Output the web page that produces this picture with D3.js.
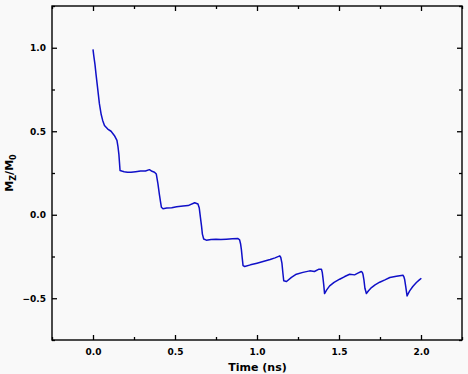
<!DOCTYPE html>
<html>
<head>
<meta charset="utf-8">
<script src="https://cdn.jsdelivr.net/npm/d3@7"></script>
<style>
  html, body { margin: 0; padding: 0; background: #f9f9f9; }
  svg { display: block; }
  text { font-family: "DejaVu Sans", Arial, sans-serif; font-weight: bold; fill: #000; }
</style>
</head>
<body>
<svg id="chart" width="468" height="374"></svg>
<script>
// ---- data ----
const timeNs = [0, 0.005, 0.012, 0.018, 0.028, 0.039, 0.05, 0.059, 0.07, 0.09, 0.11, 0.13, 0.146, 0.152, 0.158, 0.165, 0.175, 0.19, 0.21, 0.232, 0.26, 0.29, 0.32, 0.344, 0.36, 0.375, 0.386, 0.396, 0.405, 0.412, 0.417, 0.427, 0.45, 0.48, 0.51, 0.549, 0.58, 0.62, 0.64, 0.648, 0.655, 0.662, 0.667, 0.675, 0.691, 0.72, 0.75, 0.78, 0.813, 0.85, 0.884, 0.894, 0.9, 0.905, 0.91, 0.915, 0.925, 0.96, 1.0, 1.037, 1.08, 1.11, 1.139, 1.145, 1.152, 1.158, 1.163, 1.18, 1.21, 1.24, 1.28, 1.322, 1.35, 1.378, 1.393, 1.398, 1.402, 1.407, 1.412, 1.425, 1.443, 1.47, 1.504, 1.535, 1.565, 1.595, 1.615, 1.636, 1.642, 1.646, 1.652, 1.658, 1.667, 1.68, 1.698, 1.72, 1.748, 1.78, 1.81, 1.85, 1.89, 1.895, 1.9, 1.907, 1.915, 1.922, 1.931, 1.95, 1.972, 1.99, 2.002];
const mzOverM0 = [0.99, 0.95, 0.90, 0.845, 0.76, 0.665, 0.60, 0.565, 0.535, 0.513, 0.50, 0.475, 0.445, 0.41, 0.36, 0.265, 0.262, 0.258, 0.255, 0.254, 0.258, 0.262, 0.262, 0.27, 0.26, 0.255, 0.244, 0.185, 0.12, 0.075, 0.045, 0.036, 0.04, 0.042, 0.048, 0.052, 0.055, 0.072, 0.064, 0.04, -0.016, -0.07, -0.116, -0.145, -0.152, -0.148, -0.146, -0.148, -0.146, -0.144, -0.142, -0.15, -0.175, -0.21, -0.26, -0.305, -0.31, -0.3, -0.29, -0.28, -0.268, -0.258, -0.246, -0.256, -0.29, -0.35, -0.395, -0.4, -0.375, -0.356, -0.345, -0.336, -0.34, -0.326, -0.326, -0.345, -0.376, -0.42, -0.472, -0.45, -0.426, -0.405, -0.386, -0.37, -0.356, -0.36, -0.35, -0.34, -0.345, -0.356, -0.39, -0.44, -0.472, -0.455, -0.436, -0.42, -0.404, -0.39, -0.376, -0.368, -0.362, -0.37, -0.386, -0.43, -0.486, -0.472, -0.456, -0.43, -0.406, -0.39, -0.38];
const xTicks = [0.0, 0.5, 1.0, 1.5, 2.0];
const xMinorTicks = [-0.25, 0.25, 0.75, 1.25, 1.75, 2.25];
const yTicks = [-0.5, 0.0, 0.5, 1.0];
const yMinorTicks = [-0.75, -0.25, 0.25, 0.75, 1.25];
const xTitle = "Time (ns)";

// ---- layout ----
const svg = d3.select("#chart");
const L = 52, R = 462, T = 6, B = 340;
const x = d3.scaleLinear().domain([-0.25, 2.25]).range([L, R]);
const y = d3.scaleLinear().domain([-0.75, 1.25]).range([B, T]);

svg.append("rect").attr("width", 468).attr("height", 374).attr("fill", "#f9f9f9");

const fmt = d3.format(".1f");
const tickStyle = g => g.call(s => s.select(".domain").remove())
  .call(s => s.selectAll("line").attr("stroke", "#000").attr("stroke-width", 1.3));

// major ticks with labels (inward)
svg.append("g").attr("transform", `translate(0,${B})`)
  .call(d3.axisBottom(x).tickValues(xTicks).tickFormat(fmt).tickSizeInner(-5).tickSizeOuter(0).tickPadding(9))
  .call(tickStyle)
  .call(g => g.selectAll("text").attr("font-size", 9).attr("font-family", "DejaVu Sans").attr("font-weight", "bold").attr("fill", "#000"));
svg.append("g").attr("transform", `translate(${L},0)`)
  .call(d3.axisLeft(y).tickValues(yTicks).tickFormat(fmt).tickSizeInner(-5).tickSizeOuter(0).tickPadding(6))
  .call(tickStyle)
  .call(g => g.selectAll("text").attr("font-size", 9).attr("font-family", "DejaVu Sans").attr("font-weight", "bold").attr("fill", "#000"));
// minor bottom / left
svg.append("g").attr("transform", `translate(0,${B})`)
  .call(d3.axisBottom(x).tickValues(xMinorTicks).tickFormat("").tickSizeInner(-3).tickSizeOuter(0)).call(tickStyle);
svg.append("g").attr("transform", `translate(${L},0)`)
  .call(d3.axisLeft(y).tickValues(yMinorTicks).tickFormat("").tickSizeInner(-3).tickSizeOuter(0)).call(tickStyle);
// mirrored top / right
svg.append("g").attr("transform", `translate(0,${T})`)
  .call(d3.axisTop(x).tickValues(xTicks).tickFormat("").tickSizeInner(-5).tickSizeOuter(0)).call(tickStyle);
svg.append("g").attr("transform", `translate(0,${T})`)
  .call(d3.axisTop(x).tickValues(xMinorTicks).tickFormat("").tickSizeInner(-3).tickSizeOuter(0)).call(tickStyle);
svg.append("g").attr("transform", `translate(${R},0)`)
  .call(d3.axisRight(y).tickValues(yTicks).tickFormat("").tickSizeInner(-5).tickSizeOuter(0)).call(tickStyle);
svg.append("g").attr("transform", `translate(${R},0)`)
  .call(d3.axisRight(y).tickValues(yMinorTicks).tickFormat("").tickSizeInner(-3).tickSizeOuter(0)).call(tickStyle);

// frame
svg.append("rect").attr("x", L).attr("y", T).attr("width", R - L).attr("height", B - T)
  .attr("fill", "none").attr("stroke", "#000").attr("stroke-width", 1.4);

// curve
const pts = timeNs.map((t, i) => [t, mzOverM0[i]]);
svg.append("path").datum(pts)
  .attr("fill", "none").attr("stroke", "#1010c8").attr("stroke-width", 1.5)
  .attr("stroke-linejoin", "round")
  .attr("d", d3.line().x(d => x(d[0])).y(d => y(d[1])));

// axis titles
svg.append("text").attr("x", (L + R) / 2 + 0.5).attr("y", 371).attr("text-anchor", "middle")
  .attr("font-size", 11).text(xTitle);

const yt = svg.append("text").attr("transform", `translate(13,${(T + B) / 2}) rotate(-90)`)
  .attr("text-anchor", "middle").attr("font-size", 11);
yt.append("tspan").text("M");
yt.append("tspan").attr("font-size", 8).attr("dy", 3).text("Z");
yt.append("tspan").attr("dy", -3).text("/M");
yt.append("tspan").attr("font-size", 8).attr("dy", 3).text("0");
</script>
</body>
</html>
